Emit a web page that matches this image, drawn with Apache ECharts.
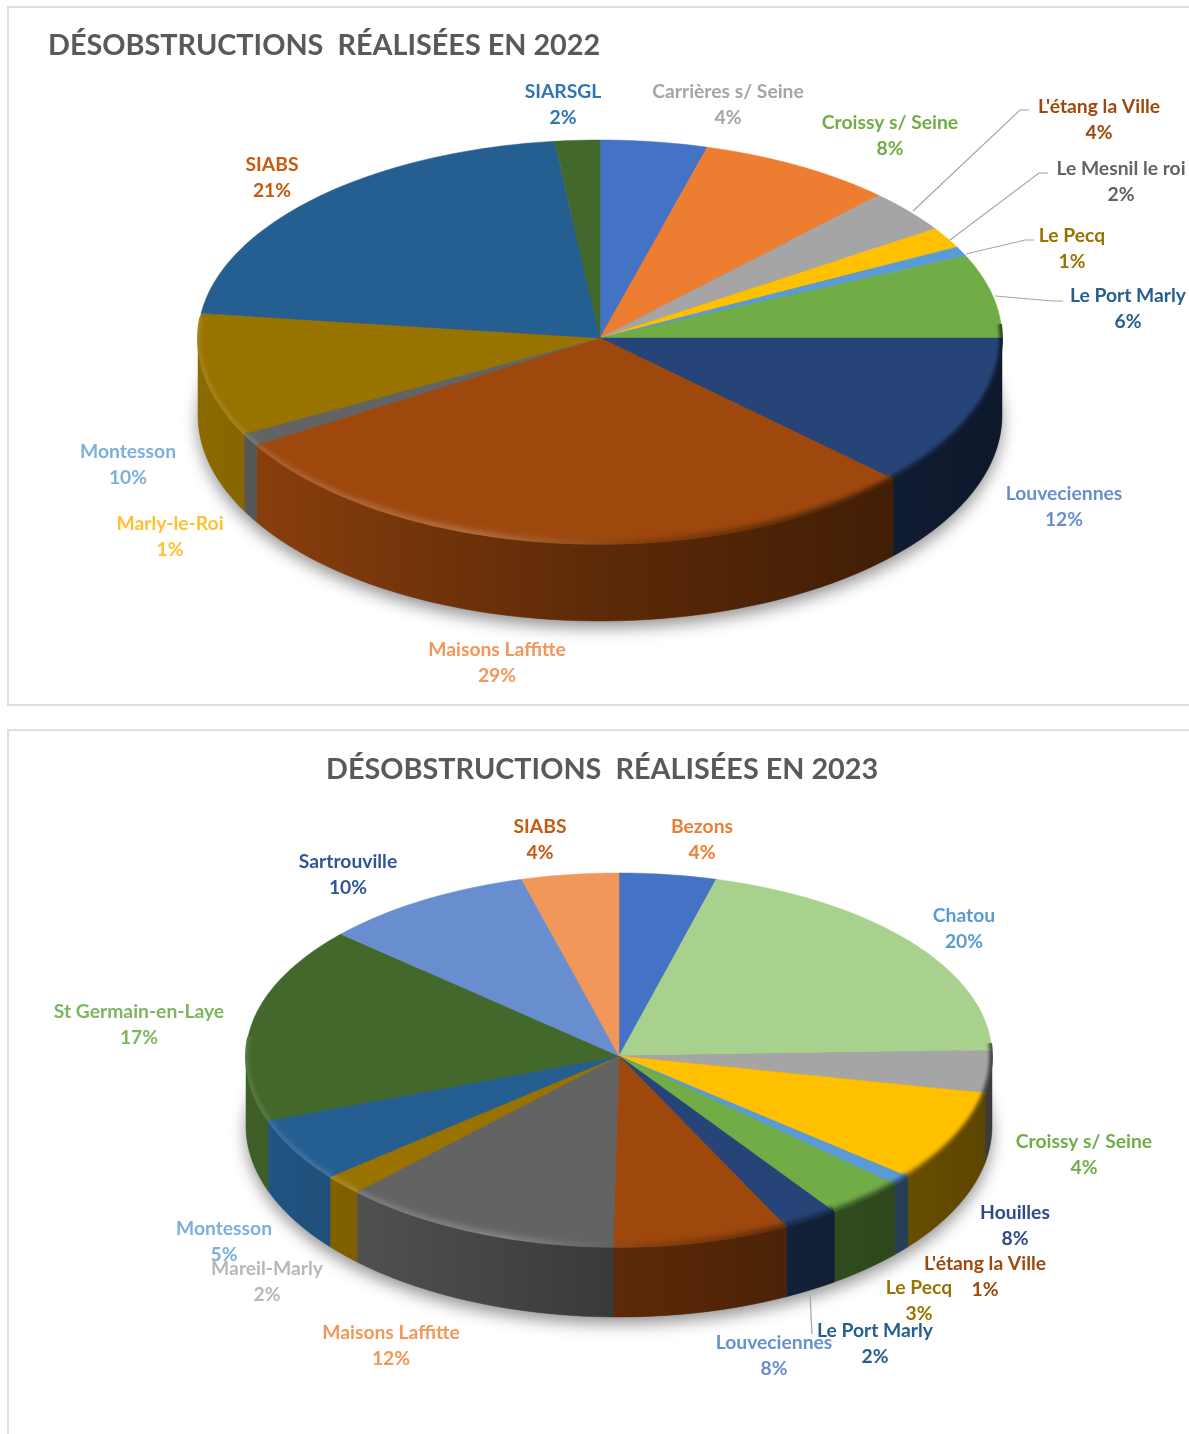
<!DOCTYPE html>
<html>
<head>
<meta charset="utf-8">
<title>Désobstructions</title>
<script src="https://cdn.jsdelivr.net/npm/echarts@6/dist/echarts.min.js"></script>
<style>
html,body{margin:0;padding:0;background:#fff;overflow:hidden}
#main{width:1189px;height:1434px}
</style>
</head>
<body>
<div id="main"></div>
<script>
// 2022
var names2022 = ['Carrières s/ Seine','Croissy s/ Seine',"L'étang la Ville",'Le Mesnil le roi','Le Pecq','Le Port Marly','Louveciennes','Maisons Laffitte','Marly-le-Roi','Montesson','SIABS','SIARSGL'];
var percent2022 = [4,8,4,2,1,6,12,29,1,10,21,2];
// slice sizes (a bit finer than the rounded labels)
var sizes2022 = [4.3,7.9,3.5,1.7,0.8,6.8,12,29.3,1,9.7,21.2,1.8];
var colors2022 = ['#4472C4','#ED7D31','#A5A5A5','#FFC000','#5B9BD5','#70AD47','#264478','#9E480E','#636363','#997300','#255E91','#43682B'];
var textColors2022 = ['#A5A5A5','#70AD47','#9E480E','#636363','#997300','#255E91','#698ED0','#F1975A','#FFC12F','#7CAFDD','#C55A11','#2E75B6'];

// 2023
var names2023 = ['Bezons','Chatou','Croissy s/ Seine','Houilles',"L'étang la Ville",'Le Pecq','Le Port Marly','Louveciennes','Maisons Laffitte','Mareil-Marly','Montesson','St Germain-en-Laye','Sartrouville','SIABS'];
var percent2023 = [4,20,4,8,1,3,2,8,12,2,5,17,10,4];
var sizes2023 = [4.2,20.3,3.6,7.8,0.85,3.45,2.4,7.65,12.15,1.7,5.4,17.1,9.2,4.2];
var colors2023 = ['#4472C4','#A9D18E','#A5A5A5','#FFC000','#5B9BD5','#70AD47','#264478','#9E480E','#636363','#997300','#255E91','#43682B','#698ED0','#F1975A'];
var textColors2023 = ['#ED7D31','#5B9BD5','#70AD47','#2F4B85','#9E480E','#997300','#255E91','#698ED0','#F1975A','#B7B7B7','#7CAFDD','#7DB560','#2F5597','#C55A11'];

// label centres
var labelPos2022 = [[728,105],[890,136],[1099,120],[1121,182],[1072,249],[1128,309],[1064,507],[497,663],[170,537],[128,465],[272,178],[563,105]];
var labelPos2023 = [[702,840],[964,929],[1084,1155],[1015,1226],[985,1277],[919,1301],[875,1344],[774,1356],[391,1346],[267,1282],[224,1242],[139,1025],[348,875],[540,840]];

var leaders = [
  [[913,211],[1020,110],[1029,110]],
  [[950,240],[1039,173],[1048,173]],
  [[966,254],[1025,240],[1034,240]],
  [[995,296],[1053,301],[1063,301]],
  [[810,1295],[812,1334]]
];

var FONT = 'Lato, "Open Sans", sans-serif';

function shade(hex, f){
  var r = parseInt(hex.substr(1,2),16), g = parseInt(hex.substr(3,2),16), b = parseInt(hex.substr(5,2),16);
  var fn = f <= 1 ? function(c){ return Math.round(c*f); } : function(c){ return Math.round(c+(255-c)*(f-1)); };
  return 'rgb('+fn(r)+','+fn(g)+','+fn(b)+')';
}

// one 3d pie : shadow, walls, faces, rim, labels
function pieSeries(sizes, colors, names, percent, textColors, labelPos, g){
  var total = 0, cum = [0];
  sizes.forEach(function(v){ total += v; cum.push(total); });
  function angles(i){ return [cum[i]/total*360, cum[i+1]/total*360]; }
  // the front half of the ellipse is a little deeper than the back (perspective)
  function arc(a0, a1, dy, insetX, insetY){
    var pts = [], n = Math.max(2, Math.ceil((a1-a0)/1.5));
    for(var k=0;k<=n;k++){
      var a = (a0+(a1-a0)*k/n)*Math.PI/180;
      var c = Math.cos(a), ry = c < 0 ? g.ryFront : g.ry;
      pts.push([g.cx+(g.rx-(insetX||0))*Math.sin(a), g.cy-(ry-(insetY||0))*c+(dy||0)]);
    }
    return pts;
  }
  var data = sizes.map(function(v,i){ return [v,i]; });
  var x0 = g.cx-g.rx, x1 = g.cx+g.rx;

  function wallFill(c){
    return new echarts.graphic.LinearGradient(x0,0,x1,0,[
      {offset:0,color:shade(c,0.92)},
      {offset:0.2,color:shade(c,0.78)},
      {offset:0.5,color:shade(c,0.58)},
      {offset:0.8,color:shade(c,0.44)},
      {offset:1,color:shade(c,0.36)}
    ],true);
  }
  function rimFill(c, strength){
    return new echarts.graphic.LinearGradient(x0,0,x1,0,[
      {offset:0,color:shade(c,1+0.1*strength)},
      {offset:0.35,color:shade(c,1+0.2*strength)},
      {offset:0.55,color:shade(c,1-0.15*strength)},
      {offset:0.8,color:shade(c,1-0.5*strength)},
      {offset:1,color:shade(c,1-0.6*strength)}
    ],true);
  }

  var shadow = {
    type:'custom', coordinateSystem:'none', silent:true, animation:false, z:2, clip:false,
    data:[[0]],
    renderItem:function(){
      return {type:'polygon', shape:{points:arc(0,360,g.depth)}, style:{fill:'#777',shadowBlur:g.blur,shadowColor:'rgba(0,0,0,0.42)',shadowOffsetY:7}};
    }
  };
  var walls = {
    type:'custom', coordinateSystem:'none', silent:true, animation:false, z:3, clip:false,
    data:data,
    renderItem:function(p){
      var i = p.dataIndex, a = angles(i);
      var a0 = Math.max(a[0],90), a1 = Math.min(a[1],270);
      if(a1<=a0) return {type:'group',children:[]};
      var pts = arc(a0,a1,0).concat(arc(a0,a1,g.depth).reverse());
      return {type:'polygon', shape:{points:pts}, style:{fill:wallFill(colors[i]),stroke:wallFill(colors[i]),lineWidth:0.5}};
    }
  };
  var faces = {
    type:'custom', coordinateSystem:'none', silent:true, animation:false, z:4, clip:false,
    data:data,
    renderItem:function(p){
      var i = p.dataIndex, a = angles(i);
      var pts = [[g.cx,g.cy]].concat(arc(a[0],a[1],0));
      var kids = [{type:'polygon', shape:{points:pts}, style:{fill:colors[i],stroke:colors[i],lineWidth:0.5}}];
      var a0 = Math.max(a[0],86), a1 = Math.min(a[1],276);
      if(a1>a0){
        // soft bevel along the front edge
        [[0.5,1,0.9],[2.5,0.9,0.75],[4.5,0.7,0.55],[6.5,0.45,0.35],[8.5,0.25,0.2]].forEach(function(b){
          kids.push({type:'polyline', shape:{points:arc(a0,a1,0,b[0]*0.55,b[0])},
            style:{fill:null,stroke:rimFill(colors[i],b[1]),lineWidth:2.4,opacity:b[2]}});
        });
      }
      return {type:'group',children:kids};
    }
  };
  var labels = {
    type:'custom', coordinateSystem:'none', silent:true, animation:false, z:6, clip:false,
    data:data,
    renderItem:function(p){
      var i = p.dataIndex;
      return {type:'text', style:{
        x:labelPos[i][0], y:labelPos[i][1], text:names[i]+'\n'+percent[i]+'%',
        fill:textColors[i], fontFamily:FONT, fontWeight:700, fontSize:19.3, lineHeight:25.5,
        align:'center', verticalAlign:'middle'
      }};
    }
  };
  return [shadow,walls,faces,labels];
}

var geo2022 = {cx:600, cy:338, rx:402, ry:198, ryFront:206, depth:77, blur:16};
var geo2023 = {cx:619, cy:1056, rx:373, ry:183, ryFront:191, depth:70, blur:16};

var graphics = [
  {type:'rect', z:0, shape:{x:8,y:7,width:1300,height:698}, style:{fill:'#fff',stroke:'#DEDEDE',lineWidth:2}},
  {type:'rect', z:0, shape:{x:8,y:730,width:1300,height:900}, style:{fill:'#fff',stroke:'#DEDEDE',lineWidth:2}}
];
leaders.forEach(function(l){
  graphics.push({type:'polyline', z:100, shape:{points:l}, style:{fill:null,stroke:'#A6A6A6',lineWidth:1.2}});
});

var chart = echarts.init(document.getElementById('main'),null,{renderer:'canvas'});
chart.setOption({
  animation:false,
  graphic:graphics,
  title:[
    {text:'DÉSOBSTRUCTIONS  RÉALISÉES EN 2022', left:48, top:31, padding:0, z:50, textStyle:{color:'#595959',fontFamily:FONT,fontWeight:700,fontSize:28.8}},
    {text:'DÉSOBSTRUCTIONS  RÉALISÉES EN 2023', left:326, top:755, padding:0, z:50, textStyle:{color:'#595959',fontFamily:FONT,fontWeight:700,fontSize:28.8}}
  ],
  series:pieSeries(sizes2022,colors2022,names2022,percent2022,textColors2022,labelPos2022,geo2022)
    .concat(pieSeries(sizes2023,colors2023,names2023,percent2023,textColors2023,labelPos2023,geo2023))
});
</script>
</body>
</html>
